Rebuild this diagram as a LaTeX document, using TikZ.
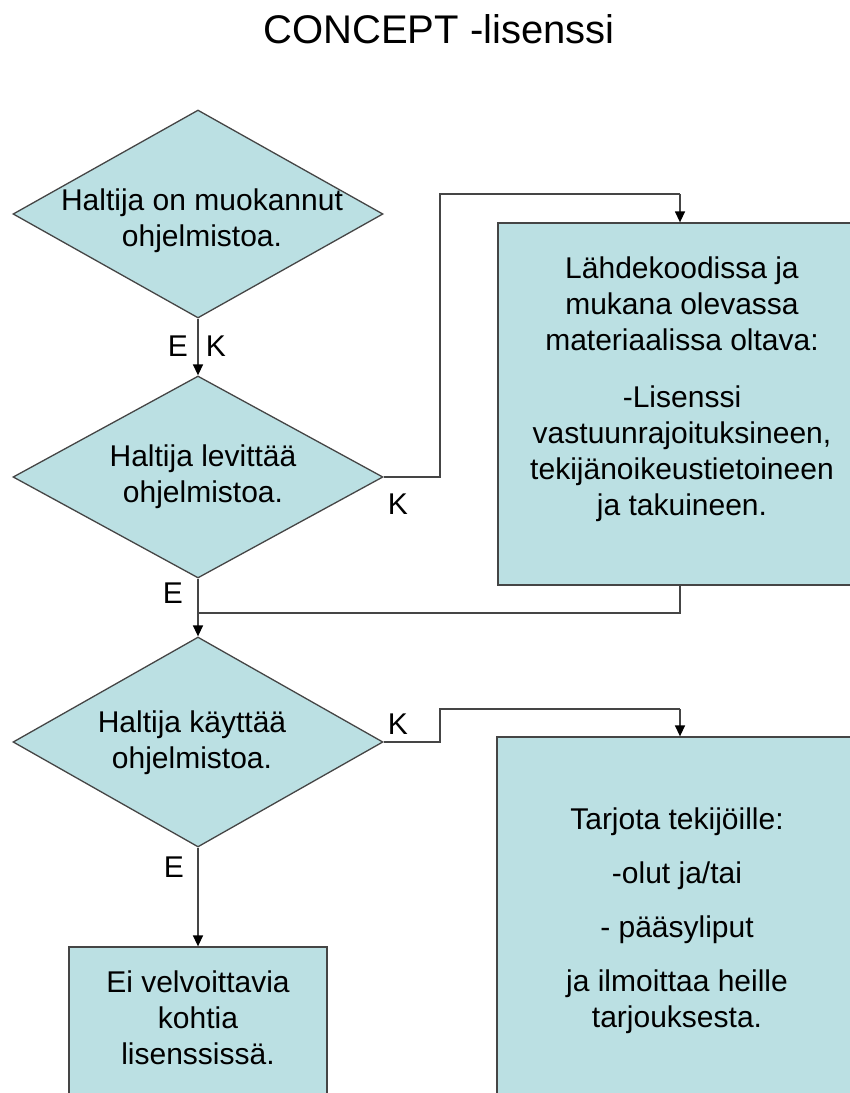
\documentclass[tikz,border=0pt]{standalone}
\usepackage{fontspec}
\setmainfont{Liberation Sans}
\usetikzlibrary{shapes.geometric,arrows.meta}
\definecolor{boxfill}{HTML}{BBE0E3}
\definecolor{edgegray}{HTML}{454545}
\begin{document}
\begin{tikzpicture}[x=1pt,y=-1pt,
  dec/.style={draw=edgegray,fill=boxfill,line width=1.3pt,shape=diamond,inner sep=0pt,minimum width=370pt},
  proc/.style={draw=edgegray,fill=boxfill,line width=1.3pt,rectangle,inner sep=0pt},
  txt/.style={font=\fontsize{30}{36}\selectfont,align=center,inner sep=0pt},
  lbl/.style={font=\fontsize{30}{36}\selectfont,inner sep=0pt},
  conn/.style={draw=edgegray,line width=1.4pt},
  arr/.style={conn,-{Triangle[width=10pt,length=11pt,fill=black,color=black]}}]
\path[use as bounding box] (0,0) rectangle (850,1093);
\clip (0,0) rectangle (850,1093);
\fill[white] (0,0) rectangle (850,1093);

% title
\node[font=\fontsize{40}{48}\selectfont,inner sep=0pt,anchor=base] (title) at (439,43) {CONCEPT -lisenssi};

% decisions
\node[dec,minimum height=208pt] (d1) at (198,214) {};
\node[dec,minimum height=202pt] (d2) at (198,477) {};
\node[dec,minimum height=210pt] (d3) at (198,742) {};
\node[txt] (t1) at (202,220.5) {Haltija on muokannut\\ohjelmistoa.};
\node[txt] (t2) at (203,477) {Haltija levittää\\ohjelmistoa.};
\node[txt] (t3) at (192,743) {Haltija käyttää\\ohjelmistoa.};

% boxes
\node[proc,minimum width=368pt,minimum height=362pt] (b1) at (682,404) {};
\node[proc,minimum width=360pt,minimum height=413pt] (b2) at (677,943.5) {};
\node[proc,minimum width=258pt,minimum height=203pt] (b3) at (198,1048.5) {};
\node[txt] (bt1) at (682,389) {Lähdekoodissa ja\\mukana olevassa\\materiaalissa oltava:\\[21pt]-Lisenssi\\vastuunrajoituksineen,\\tekijänoikeustietoineen\\ja takuineen.};
\node[txt] (bt2) at (677,921) {Tarjota tekijöille:\\[18pt]-olut ja/tai\\[18pt]- pääsyliput\\[18pt]ja ilmoittaa heille\\tarjouksesta.};
\node[txt] (bt3) at (198,1017.5) {Ei velvoittavia\\kohtia\\lisenssissä.};

% routing points
\coordinate (k1a) at (440,194);
\coordinate (k1b) at (680,194);
\coordinate (j1) at (680,613);
\coordinate (j2) at (198,613);
\coordinate (k2a) at (440,709);
\coordinate (k2b) at (680,709);

% connectors
\draw[arr] (d1.south) -- (d2.north);
\draw[conn] (d2.east) -- (d2.east -| k1a) -- (k1a) -- (k1b);
\draw[arr] (k1b) -- (k1b |- b1.north);
\draw[arr] (d2.south) -- (d3.north);
\draw[conn] (j1 |- b1.south) -- (j1) -- (j2);
\draw[conn] (d3.east) -- (d3.east -| k2a) -- (k2a) -- (k2b);
\draw[arr] (k2b) -- (k2b |- b2.north);
\draw[arr] (d3.south) -- (b3.north);

% labels
\node[lbl] (l1) at (178,346) {E};
\node[lbl] (l2) at (216,346) {K};
\node[lbl] (l3) at (398,504) {K};
\node[lbl] (l4) at (173,593) {E};
\node[lbl] (l5) at (398,724) {K};
\node[lbl] (l6) at (174,867) {E};
\end{tikzpicture}
\end{document}
